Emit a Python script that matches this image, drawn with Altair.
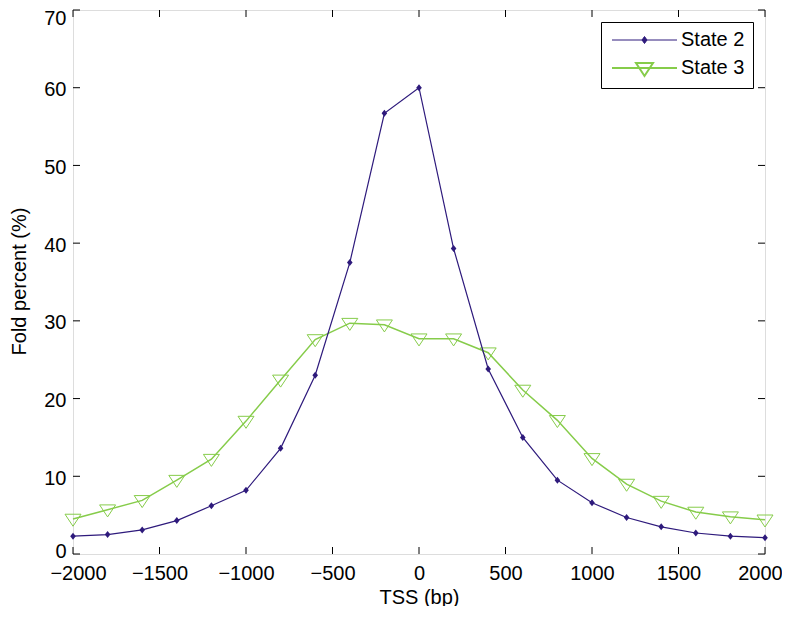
import altair as alt
import pandas as pd

# ---- data ----
tss = [-2000, -1800, -1600, -1400, -1200, -1000, -800, -600, -400, -200,
       0, 200, 400, 600, 800, 1000, 1200, 1400, 1600, 1800, 2000]
state2 = [2.3, 2.5, 3.1, 4.3, 6.2, 8.2, 13.6, 23.0, 37.5, 56.7,
          60.0, 39.3, 23.8, 15.0, 9.5, 6.6, 4.7, 3.5, 2.7, 2.3, 2.1]
state3 = [4.5, 5.7, 6.9, 9.5, 12.2, 17.1, 22.4, 27.6, 29.7, 29.5,
          27.7, 27.7, 25.9, 21.1, 17.2, 12.3, 9.0, 6.8, 5.4, 4.8, 4.4]
series_names = ["State 2", "State 3"]
x_ticks = [-2000, -1500, -1000, -500, 0, 500, 1000, 1500, 2000]
y_ticks = [0, 10, 20, 30, 40, 50, 60, 70]

# ---- styles ----
colors = ["#2e1a7c", "#86cc4a"]
line_widths = [1.2, 1.5]
FONT = "Liberation Sans"
W, H = 692, 544
TICK = 7

df = pd.DataFrame({
    "tss": tss * 2,
    "value": state2 + state3,
    "series": ["State 2"] * len(tss) + ["State 3"] * len(tss),
})

xscale = alt.Scale(domain=[-2000, 2000], nice=False, zero=False)
yscale = alt.Scale(domain=[0, 70], nice=False, zero=False)

x_label_offset = {"condition": [{"test": "datum.value == 2000", "value": -5},
                                {"test": "datum.value == -2000", "value": 5}],
                  "value": 0}
y_label_offset = {"condition": [{"test": "datum.value == 70", "value": 8},
                                {"test": "datum.value == 0", "value": -3}],
                  "value": 2}

xaxis = alt.Axis(values=x_ticks, format="d", title="TSS (bp)", grid=False,
                 ticks=False, tickSize=0, domain=False, labelPadding=19,
                 labelBaseline="middle", labelFont=FONT, labelFontSize=20,
                 labelColor="black", titleFont=FONT, titleFontSize=20,
                 titleFontWeight="normal", titleColor="black",
                 titleBaseline="middle", titleY=43, labelFlush=False,
                 labelOffset=x_label_offset)
yaxis = alt.Axis(values=y_ticks, format="d", title="Fold percent (%)", grid=False,
                 ticks=False, tickSize=0, domain=False, labelPadding=7,
                 labelFont=FONT, labelFontSize=20, labelColor="black",
                 titleFont=FONT, titleFontSize=20, titleFontWeight="normal",
                 titleColor="black", titleBaseline="middle", titleX=-54,
                 titleY=271, labelFlush=False, labelOffset=y_label_offset)

base = alt.Chart(df)

# marker shapes (custom paths)
diamond = "M0,-1L0.8,0L0,1L-0.8,0Z"
tri_down = "M-1,-0.6L1,-0.6L0,0.9Z"

X = alt.X("tss:Q", scale=xscale, axis=xaxis)
Y = alt.Y("value:Q", scale=yscale, axis=yaxis)

layers = []
# State 3 (drawn first, below)
s3 = base.transform_filter(alt.datum.series == "State 3")
layers.append(s3.mark_line(color=colors[1], strokeWidth=line_widths[1]).encode(x=X, y=Y))
layers.append(s3.mark_point(shape=tri_down, size=256, filled=False, opacity=1,
                            color=colors[1], strokeWidth=1).encode(x=X, y=Y))
# State 2
s2 = base.transform_filter(alt.datum.series == "State 2")
layers.append(s2.mark_line(color=colors[0], strokeWidth=line_widths[0]).encode(x=X, y=Y))
layers.append(s2.mark_point(shape=diamond, size=49, filled=True, opacity=1,
                            color=colors[0]).encode(x=X, y=Y))

# inward ticks on all four sides
xt = alt.Chart(pd.DataFrame({"tss": x_ticks}))
yt = alt.Chart(pd.DataFrame({"value": y_ticks}))
tick_style = dict(color="black", strokeWidth=1)
layers.append(xt.mark_rule(**tick_style).encode(
    x=X, y=alt.value(H), y2=alt.value(H - TICK)))
layers.append(xt.mark_rule(**tick_style).encode(
    x=X, y=alt.value(0), y2=alt.value(TICK)))
layers.append(yt.mark_rule(**tick_style).encode(
    y=Y, x=alt.value(0), x2=alt.value(TICK)))
layers.append(yt.mark_rule(**tick_style).encode(
    y=Y, x=alt.value(W), x2=alt.value(W - TICK)))

# legend layer: line + marker symbols as custom paths
leg_shapes = ["M-1.4,0H11.6M5.1,-0.7L5.6,0L5.1,0.7L4.6,0Z",
              "M-1.4,0H11.6M3.4,-1L6.8,-1L5.1,1.6Z"]
legend = alt.Legend(title=None, orient="none", legendX=528, legendY=12,
                    padding=8, strokeColor="black", fillColor="white",
                    labelFont=FONT, labelFontSize=20, labelColor="black",
                    labelOffset=52, rowPadding=8, symbolSize=100, labelLimit=0)
leg_df = pd.DataFrame({"series": series_names})
layers.append(alt.Chart(leg_df).mark_point(size=100, opacity=1).encode(
    shape=alt.Shape("series:N", scale=alt.Scale(domain=series_names, range=leg_shapes), legend=legend),
    stroke=alt.Stroke("series:N", scale=alt.Scale(domain=series_names, range=colors), legend=legend),
    fill=alt.Fill("series:N", scale=alt.Scale(domain=series_names, range=[colors[0], "transparent"]), legend=legend),
    strokeWidth=alt.StrokeWidth("series:N", scale=alt.Scale(domain=series_names, range=[1, 2]), legend=legend),
).transform_filter("false"))

chart = alt.layer(*layers).properties(
    width=W, height=H,
    autosize=alt.AutoSizeParams(type="none"),
    padding={"left": 65, "top": 2, "right": 17, "bottom": 52},
).configure_view(stroke="black", strokeWidth=1).configure(background="white")

chart.save("out.html", embed_options={"renderer": "svg", "actions": False})
